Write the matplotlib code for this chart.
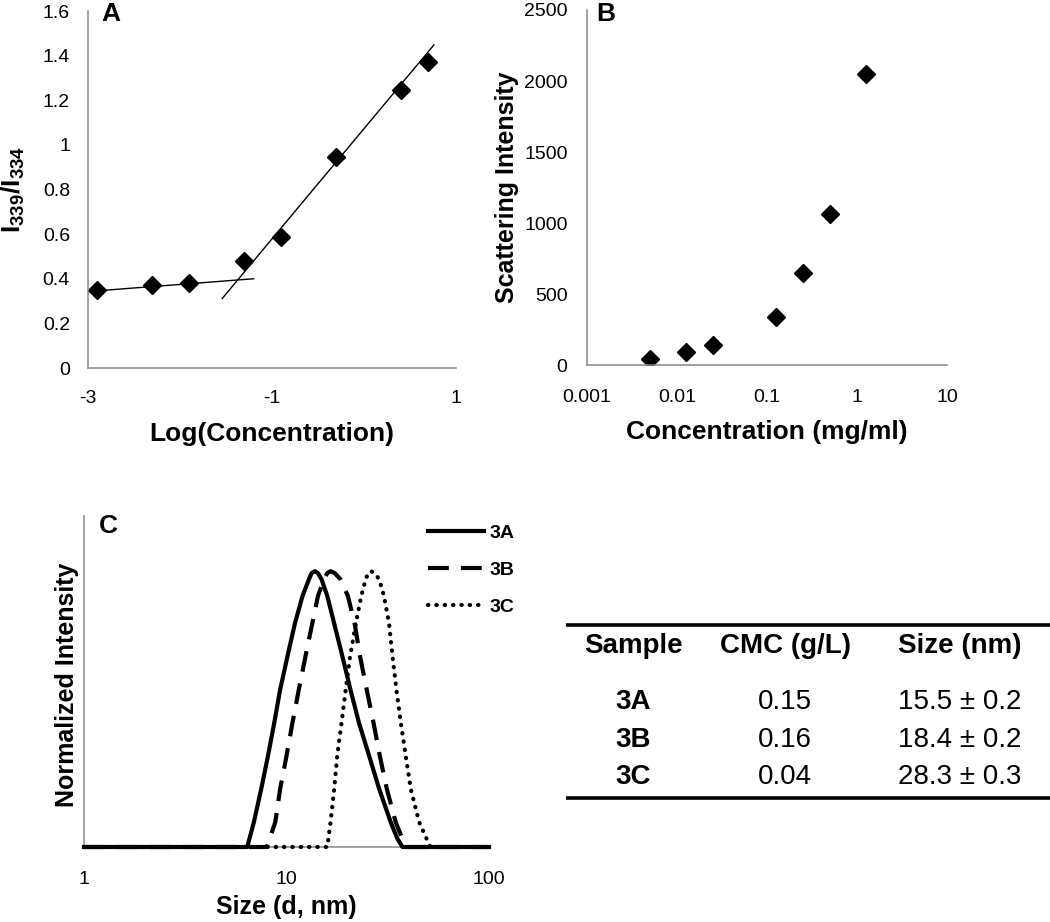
import numpy as np
import matplotlib
matplotlib.use('Agg')
import matplotlib.pyplot as plt
from matplotlib.ticker import FixedLocator, NullLocator

plt.rcParams['font.family'] = ['Liberation Sans', 'DejaVu Sans']
plt.rcParams['mathtext.fontset'] = 'custom'
plt.rcParams['mathtext.rm'] = 'Liberation Sans'
plt.rcParams['mathtext.bf'] = 'Liberation Sans:bold'

# A: pyrene ratio vs log concentration
log_conc = [-2.9, -2.3, -1.9, -1.3, -0.9, -0.3, 0.4, 0.7]
ratio = [0.35, 0.37, 0.38, 0.48, 0.585, 0.945, 1.245, 1.37]
fit_low_x = [-3.02, -1.2]
fit_low_y = [0.342, 0.40]
fit_high_x = [-1.54, 0.76]
fit_high_y = [0.312, 1.448]

# B: scattering intensity vs concentration
conc = [0.005, 0.0125, 0.025, 0.125, 0.25, 0.5, 1.25]
scatter_int = [40, 95, 140, 340, 645, 1060, 2050]

# C: size distributions
size_3a = [1, 6.4, 6.9, 7.5, 8.1, 8.7, 9.3, 10.1, 11.0, 12.0, 12.9, 13.3, 13.8,
           14.3, 14.9, 15.9, 17.2, 18.9, 20.7, 22.8, 25.6, 28.7, 32.7, 35.3, 37.4, 100]
int_3a = [0, 0, .09, .21, .33, .45, .57, .69, .81, .91, .97, .993, 1.0,
          .993, .97, .91, .81, .69, .57, .45, .33, .21, .09, .03, 0, 0]
size_3b = [1, 8.0, 8.8, 9.3, 10.0, 10.7, 11.5, 12.4, 13.4, 14.3, 15.3, 15.9, 16.5,
           17.3, 18.5, 20.1, 21.7, 23.1, 24.9, 26.9, 28.9, 31.3, 34.6, 38.8, 100]
int_3b = [0, 0, .09, .21, .33, .45, .57, .69, .81, .91, .97, .993, 1.0,
          .993, .97, .91, .81, .69, .57, .45, .33, .21, .09, 0, 0]
size_3c = [1, 15.9, 16.5, 17.2, 17.8, 18.7, 19.6, 20.6, 22.0, 23.4, 24.6, 25.3, 26.1,
           27.3, 28.7, 30.3, 32.1, 33.4, 34.9, 36.7, 38.8, 41.1, 45.2, 51.3, 100]
int_3c = [0, 0, .09, .21, .33, .45, .57, .69, .81, .91, .97, .993, 1.0,
          .993, .97, .91, .81, .69, .57, .45, .33, .21, .09, 0, 0]

# table
samples = ['3A', '3B', '3C']
cmc = ['0.15', '0.16', '0.04']
sizes_txt = ['15.5 \u00b1 0.2', '18.4 \u00b1 0.2', '28.3 \u00b1 0.3']

W, H = 1050, 922
fig = plt.figure(figsize=(W / 100, H / 100), dpi=100)

spine_c = '#888888'
tick_fs = 14
lab_fs = 19


def style(ax):
    for s in ['top', 'right']:
        ax.spines[s].set_visible(False)
    for s in ['left', 'bottom']:
        ax.spines[s].set_color(spine_c)
        ax.spines[s].set_linewidth(1.1)
    ax.tick_params(length=0, labelsize=tick_fs)


def px_axes(l, r, t, b):
    return fig.add_axes([l / W, 1 - b / H, (r - l) / W, (b - t) / H])


# ---- A
axA = px_axes(88, 456, 11, 368)
style(axA)
axA.plot(fit_low_x, fit_low_y, color='black', lw=1.0)
axA.plot(fit_high_x, fit_high_y, color='black', lw=1.0)
axA.plot(log_conc, ratio, 'D', color='black', ms=9, clip_on=False)
axA.set_xlim(-3, 1)
axA.set_ylim(0, 1.6)
axA.set_xticks([-3, -1, 1])
axA.set_xticklabels(['-3', '-1', '1'])
axA.set_yticks(np.arange(0, 1.61, 0.2))
axA.set_yticklabels(['0', '0.2', '0.4', '0.6', '0.8', '1', '1.2', '1.4', '1.6'])
axA.tick_params(axis='x', pad=16)
axA.tick_params(axis='y', pad=13)
axA.set_xlabel('Log(Concentration)', fontsize=lab_fs, fontweight='bold')
axA.xaxis.set_label_coords(0.5, -0.15)
axA.set_ylabel(r'$\mathbf{I}_{\mathbf{339}}\mathbf{/I}_{\mathbf{334}}$', fontsize=19)
axA.yaxis.set_label_coords(-0.165, 0.5)
fig.text(101 / W, 1 - 2 / H, 'A', fontsize=19, fontweight='bold', va='top')

# ---- B
axB = px_axes(587, 947, 10, 365)
style(axB)
axB.plot(conc, scatter_int, 'D', color='black', ms=9)
axB.set_xscale('log')
axB.set_xlim(0.001, 10)
axB.set_ylim(0, 2500)
axB.xaxis.set_major_locator(FixedLocator([0.001, 0.01, 0.1, 1, 10]))
axB.xaxis.set_minor_locator(NullLocator())
axB.set_xticklabels(['0.001', '0.01', '0.1', '1', '10'])
axB.set_yticks([0, 500, 1000, 1500, 2000, 2500])
axB.tick_params(axis='x', pad=17)
axB.tick_params(axis='y', pad=14)
axB.set_xlabel('Concentration (mg/ml)', fontsize=lab_fs, fontweight='bold')
axB.xaxis.set_label_coords(0.5, -0.155)
axB.set_ylabel('Scattering Intensity', fontsize=18, fontweight='bold')
axB.yaxis.set_label_coords(-0.19, 0.5)
fig.text(596 / W, 1 - 2 / H, 'B', fontsize=19, fontweight='bold', va='top')

# ---- C
axC = px_axes(84, 489, 516, 847)
style(axC)
axC.plot(size_3c, int_3c, color='black', lw=3.0, linestyle=(0, (0.1, 1.9)),
         dash_capstyle='round', label='3C', clip_on=False, zorder=3)
axC.plot(size_3b, int_3b, color='black', lw=3.0, linestyle=(0, (5.0, 2.9)),
         label='3B', clip_on=False, zorder=3)
axC.plot(size_3a, int_3a, color='black', lw=3.0, label='3A', clip_on=False,
         zorder=3)
axC.set_xscale('log')
axC.set_xlim(1, 100)
axC.set_ylim(0, 1.2)
axC.xaxis.set_major_locator(FixedLocator([1, 10, 100]))
axC.xaxis.set_minor_locator(NullLocator())
axC.set_xticklabels(['1', '10', '100'])
axC.set_yticks([])
axC.tick_params(axis='x', pad=17)
axC.set_xlabel('Size (d, nm)', fontsize=18, fontweight='bold')
axC.xaxis.set_label_coords(0.5, -0.145)
axC.set_ylabel('Normalized Intensity', fontsize=18, fontweight='bold')
axC.yaxis.set_label_coords(-0.012, 0.49)
h, l = axC.get_legend_handles_labels()
leg = axC.legend(h[::-1], l[::-1], loc='upper left', bbox_to_anchor=(0.85, 0.975),
                 frameon=False, borderpad=0, borderaxespad=0, handlelength=2.85,
                 handletextpad=0.3, labelspacing=1.0,
                 prop={'size': 14, 'weight': 'bold'})
fig.text(99 / W, 1 - 514 / H, 'C', fontsize=19, fontweight='bold', va='top')

# ---- table
axT = fig.add_axes([0, 0, 1, 1], zorder=-1)
axT.set_xlim(0, W)
axT.set_ylim(H, 0)
axT.axis('off')
axT.hlines([625, 798], 566, W, color='black', lw=2.6)
col_x = [633, 785, 960]
for x, t in zip(col_x, ['Sample', 'CMC (g/L)', 'Size (nm)']):
    axT.text(x, 646, t, fontsize=20, fontweight='bold', ha='center', va='center')
row_y = [702, 740, 777]
for y, s, c, z in zip(row_y, samples, cmc, sizes_txt):
    axT.text(col_x[0], y, s, fontsize=20, fontweight='bold', ha='center', va='center')
    axT.text(col_x[1], y, c, fontsize=20, ha='center', va='center')
    axT.text(col_x[2], y, z, fontsize=20, ha='center', va='center')

fig.savefig('out.png', dpi=100)
